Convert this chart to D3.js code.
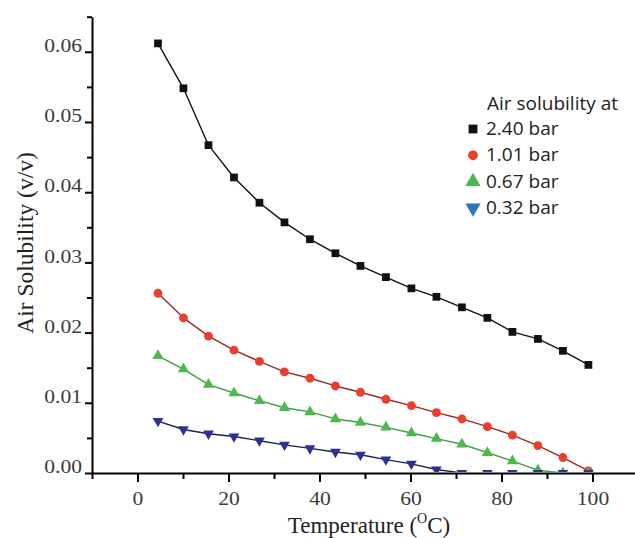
<!DOCTYPE html>
<html>
<head>
<meta charset="utf-8">
<script src="https://cdn.jsdelivr.net/npm/d3@7"></script>
<style>
	body { margin: 0; background: #fff; }
	svg { display: block; }
</style>
</head>
<body>
<svg class="chart" width="635" height="538"></svg>
<script>
// Data
const temperature = [4.5, 10.1, 15.6, 21.2, 26.8, 32.3, 37.9, 43.5, 49.0, 54.6, 60.2, 65.7, 71.3, 76.9, 82.4, 88.0, 93.5, 99.1];
const sol240 = [0.0612, 0.0548, 0.0467, 0.0421, 0.0385, 0.0357, 0.0333, 0.0313, 0.0295, 0.0279, 0.0263, 0.0251, 0.0236, 0.0221, 0.0201, 0.0191, 0.0174, 0.0154];
const sol101 = [0.0256, 0.0221, 0.0195, 0.0175, 0.0159, 0.0144, 0.0135, 0.0124, 0.0115, 0.0105, 0.0096, 0.0086, 0.0077, 0.0066, 0.0054, 0.0039, 0.0022, 0.0003];
const sol067 = [0.0167, 0.0148, 0.0126, 0.0114, 0.0103, 0.0093, 0.0087, 0.0077, 0.0072, 0.0065, 0.0057, 0.0049, 0.0041, 0.0029, 0.0017, 0.0004, 0, 0];
const sol032 = [0.0074, 0.0062, 0.0056, 0.0052, 0.0046, 0.0040, 0.0035, 0.0030, 0.0026, 0.0019, 0.0013, 0.0005, 0, 0, 0, 0, 0, 0];
const seriesNames = ["2.40 bar", "1.01 bar", "0.67 bar", "0.32 bar"];

const xMajorTicks = [0, 20, 40, 60, 80, 100];
const xMinorTicks = [-10, 10, 30, 50, 70, 90, 110];
const yMajorTicks = [0, 0.01, 0.02, 0.03, 0.04, 0.05, 0.06];
const yMinorTicks = [0.005, 0.015, 0.025, 0.035, 0.045, 0.055, 0.065];

////////////////////////////////////////////////////////////
//// Setup /////////////////////////////////////////////////
////////////////////////////////////////////////////////////
const svg = d3.select(".chart");
const x = d3.scaleLinear().domain([-10, 110]).range([92, 638]);
const y = d3.scaleLinear().domain([0, 0.065]).range([473, 16.7]);
const stretch = 1.2; // tick labels look horizontally stretched

const series = [
	{ name: seriesNames[0], values: sol240, fill: "#111", line: "#111", shape: d3.symbolSquare, size: 60, rot: 0, legendSize: 78 },
	{ name: seriesNames[1], values: sol101, fill: "#e8402c", line: "#9a2a22", shape: d3.symbolCircle, size: 62, rot: 0, legendSize: 75 },
	{ name: seriesNames[2], values: sol067, fill: "#4cb84e", line: "#3f9c45", shape: d3.symbolTriangle, size: 55, rot: 0, legendSize: 100 },
	{ name: seriesNames[3], values: sol032, fill: "#2e3192", line: "#1f2050", shape: d3.symbolTriangle, size: 50, rot: 180, legendSize: 100, legendFill: "#2a78c0" }
];

svg.append("defs")
	.append("clipPath")
	.attr("id", "plot-clip")
	.append("rect")
	.attr("x", x(-10))
	.attr("y", 0)
	.attr("width", x(110) - x(-10))
	.attr("height", y(0) - 1);

////////////////////////////////////////////////////////////
//// Series ////////////////////////////////////////////////
////////////////////////////////////////////////////////////
const line = d3.line()
	.x(d => x(d[0]))
	.y(d => y(d[1]));

const gData = svg.append("g").attr("clip-path", "url(#plot-clip)");

series.forEach(s => {
	const pts = temperature.map((t, i) => [t, s.values[i]]);
	gData.append("path")
		.attr("d", line(pts))
		.attr("fill", "none")
		.attr("stroke", s.line)
		.attr("stroke-width", 1.4)
		.attr("stroke-linejoin", "round");
	gData.append("g")
		.selectAll("path")
		.data(pts)
		.join("path")
		.attr("d", d3.symbol(s.shape, s.size))
		.attr("transform", d => `translate(${x(d[0])},${y(d[1])}) rotate(${s.rot})`)
		.attr("fill", s.fill);
});

////////////////////////////////////////////////////////////
//// Axes //////////////////////////////////////////////////
////////////////////////////////////////////////////////////
const tickFont = g => g.selectAll("text")
	.attr("font-family", "'Liberation Serif', 'Times New Roman', serif")
	.attr("font-size", 18)
	.attr("fill", "#3a3a3a");

const gx = svg.append("g").attr("transform", `translate(0,${y(0)})`);
gx.append("g")
	.call(d3.axisBottom(x).tickValues(xMinorTicks).tickSize(6).tickSizeOuter(0).tickFormat(""))
	.call(g => g.select(".domain").remove());
gx.append("g")
	.call(d3.axisBottom(x).tickValues(xMajorTicks).tickSize(9).tickSizeOuter(0))
	.call(g => g.select(".domain").attr("stroke-width", 2))
	.call(tickFont)
	.call(g => g.selectAll("text")
		.attr("y", 32).attr("dy", null)
		.attr("transform", `scale(${stretch},1)`));
gx.selectAll(".tick line").attr("stroke-width", 2);

const gy = svg.append("g").attr("transform", `translate(${x(-10)},0)`);
gy.append("g")
	.call(d3.axisLeft(y).tickValues(yMinorTicks).tickSize(5).tickSizeOuter(0).tickFormat(""))
	.call(g => g.select(".domain").remove());
gy.append("g")
	.call(d3.axisLeft(y).tickValues(yMajorTicks).tickSize(7).tickSizeOuter(0).tickFormat(d3.format(".2f")))
	.call(g => g.select(".domain").attr("stroke-width", 2))
	.call(tickFont)
	.call(g => g.selectAll("text")
		.attr("x", -10 / stretch).attr("dy", "-0.02em")
		.attr("transform", `scale(${stretch},1)`));
gy.selectAll(".tick line").attr("stroke-width", 2);

// Axis titles
svg.append("text")
	.attr("x", (x(-10) + x(110)) / 2 + 4)
	.attr("y", 533)
	.attr("text-anchor", "middle")
	.attr("font-family", "'Liberation Serif', 'Times New Roman', serif")
	.attr("font-size", 23)
	.attr("fill", "#222")
	.call(t => {
		t.append("tspan").text("Temperature (");
		t.append("tspan").text("O").attr("font-size", 14).attr("dy", -10);
		t.append("tspan").text("C)").attr("dy", 10);
	});

svg.append("text")
	.attr("transform", `translate(33,${243}) rotate(-90)`)
	.attr("text-anchor", "middle")
	.attr("font-family", "'Liberation Serif', 'Times New Roman', serif")
	.attr("font-size", 23.5)
	.attr("fill", "#222")
	.text("Air Solubility (v/v)");

////////////////////////////////////////////////////////////
//// Legend ////////////////////////////////////////////////
////////////////////////////////////////////////////////////
const legend = svg.append("g")
	.attr("font-family", "'Open Sans', sans-serif")
	.attr("font-size", 19)
	.attr("fill", "#222");

legend.append("text")
	.attr("x", 487)
	.attr("y", 110)
	.text("Air solubility at");

const item = legend.selectAll("g.item")
	.data(series)
	.join("g")
	.attr("class", "item")
	.attr("transform", (d, i) => `translate(0,${135 + i * 26.3})`);

item.append("path")
	.attr("d", d => d3.symbol(d.shape, d.legendSize)())
	.attr("transform", d => `translate(473,-6) rotate(${d.rot})`)
	.attr("fill", d => d.legendFill || d.fill);

item.append("text")
	.attr("x", 486)
	.text(d => d.name);
</script>
</body>
</html>
